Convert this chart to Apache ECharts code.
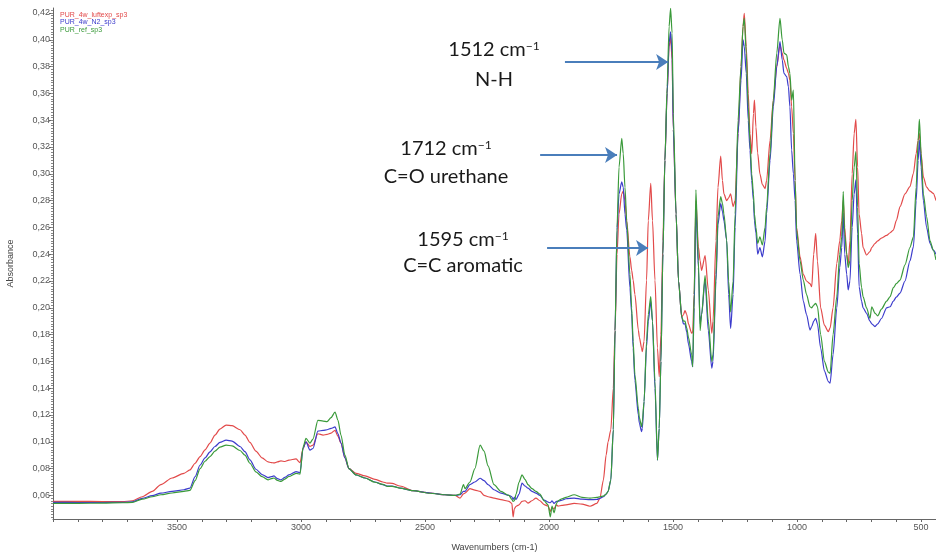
<!DOCTYPE html>
<html><head><meta charset="utf-8">
<script src="https://cdn.jsdelivr.net/npm/echarts@6/dist/echarts.min.js"></script>
<style>html,body{margin:0;padding:0;background:#fff}#c{width:936px;height:552px}</style>
</head><body><div id="c"></div>
<script>
const seriesNames = ['PUR_4w_luftexp_sp3', 'PUR_4w_N2_sp3', 'PUR_ref_sp3'];
const seriesColors = ['#e24a4a', '#3c3ccc', '#3a9a3a'];

const wavenumbers = [4000,3900,3800,3720,3680,3640,3600,3565,3520,3472,3448,3427,3407,3387,3367,3347,3327,3302,3278,3246,3226,3206,3182,3157,3133,3120,3109,3095,3081,3065,3049,3020,3004,2992,2980,2964,2952,2932,2911,2895,2879,2863,2851,2839,2823,2807,2778,2742,2702,2670,2653,2633,2601,2549,2480,2420,2379,2359,2345,2339,2319,2299,2278,2262,2246,2222,2194,2162,2150,2145,2140,2133,2121,2109,2097,2085,2069,2053,2037,2020,2004,1995,1988,1980,1970,1964,1948,1932,1899,1867,1835,1807,1795,1781,1770,1762,1751,1741,1734,1726,1718,1707,1701,1694,1687,1674,1667,1661,1654,1640,1636,1627,1624,1617,1607,1600,1590,1583,1573,1563,1556,1549,1541,1533,1524,1516,1510,1504,1499,1488,1478,1465,1458,1452,1445,1438,1425,1421,1415,1408,1398,1391,1385,1371,1358,1344,1339,1327,1319,1308,1301,1295,1284,1276,1268,1258,1250,1238,1226,1218,1213,1205,1197,1190,1183,1176,1172,1166,1159,1150,1140,1129,1123,1109,1096,1082,1069,1060,1053,1042,1035,1029,1022,1015,1008,1002,988,975,962,948,941,933,925,918,905,890,874,867,855,840,828,820,814,808,800,794,787,778,770,763,756,750,740,734,720,706,699,686,675,660,639,625,612,600,585,565,545,531,520,512,507,500,491,478,464,451,440];

const absRed = [.0555,.0556,.0554,.0553,.0560,.0590,.0630,.0680,.0730,.0765,.0790,.0840,.0890,.0940,.0990,.1050,.1095,.1125,.1120,.1090,.1050,.0995,.0930,.0880,.0850,.0845,.0842,.0850,.0857,.0853,.0864,.0872,.0845,.0950,.1000,.0965,.0975,.1060,.1050,.1055,.1065,.1086,.1040,.0990,.0880,.0800,.0765,.0745,.0720,.0700,.0692,.0690,.0670,.0635,.0618,.0605,.0600,.0580,.0612,.0617,.0650,.0640,.0630,.0600,.0590,.0580,.0568,.0556,.0540,.0440,.0500,.0519,.0530,.0556,.0560,.0543,.0560,.0580,.0560,.0531,.0520,.0480,.0510,.0500,.0530,.0520,.0525,.0530,.0540,.0535,.0519,.0540,.0580,.0715,.0900,.1000,.1090,.1400,.1830,.2400,.2700,.2850,.2870,.2800,.2650,.2380,.2280,.2207,.2100,.1834,.1780,.1700,.1673,.1750,.2207,.2650,.2929,.2650,.2207,.1700,.1486,.1800,.2500,.3100,.3600,.3950,.4020,.3850,.3330,.2700,.2200,.1930,.1950,.1980,.1950,.1880,.1810,.1820,.2100,.2800,.2456,.2350,.2280,.2390,.2133,.1810,.1900,.2500,.2900,.3133,.2950,.2850,.2800,.2820,.2850,.2755,.2800,.3300,.3800,.4100,.4198,.3950,.3600,.3300,.3150,.3450,.3550,.3350,.3155,.3000,.2920,.2890,.2950,.3250,.3550,.3800,.3960,.3900,.3850,.3787,.3750,.3700,.3500,.3300,.2950,.2600,.2381,.2250,.2200,.2180,.2157,.2400,.2556,.2350,.2000,.1870,.1822,.1850,.2000,.2332,.2500,.2650,.2804,.2600,.2400,.2320,.2500,.3000,.3300,.3407,.3050,.2700,.2556,.2450,.2394,.2420,.2450,.2480,.2500,.2520,.2540,.2560,.2580,.2650,.2755,.2850,.2904,.3004,.3150,.3250,.3302,.3150,.2978,.2900,.2870,.2854,.2800];

const absBlue = [.0548,.0547,.0547,.0548,.0552,.0578,.0598,.0617,.0630,.0642,.0655,.0740,.0827,.0880,.0925,.0965,.0995,.1012,.1005,.0965,.0926,.0865,.0795,.0755,.0733,.0740,.0745,.0725,.0716,.0735,.0753,.0778,.0770,.0950,.1000,.0938,.0950,.1080,.1085,.1090,.1100,.1111,.1060,.0990,.0880,.0800,.0753,.0730,.0700,.0680,.0670,.0670,.0655,.0635,.0618,.0605,.0600,.0605,.0630,.0630,.0680,.0700,.0728,.0710,.0680,.0642,.0617,.0600,.0590,.0570,.0585,.0570,.0610,.0691,.0670,.0654,.0630,.0617,.0600,.0565,.0550,.0545,.0560,.0540,.0555,.0555,.0565,.0575,.0580,.0572,.0568,.0570,.0578,.0590,.0610,.0630,.0715,.1090,.1830,.2580,.2850,.2940,.2900,.2700,.2580,.2150,.1960,.1700,.1460,.1200,.1140,.1076,.1100,.1300,.1710,.1900,.2050,.1900,.1400,.0864,.1100,.1600,.2400,.3100,.3600,.3980,.4060,.3900,.3330,.2700,.2200,.1930,.1880,.1880,.1820,.1730,.1600,.1560,.2000,.2750,.2300,.1880,.1950,.2210,.1830,.1550,.1600,.2200,.2620,.2780,.2720,.2650,.2506,.2100,.1847,.2100,.2600,.3300,.3700,.4000,.3950,.3750,.3400,.3178,.2950,.2800,.2650,.2560,.2400,.2450,.2380,.2500,.2700,.3100,.3500,.3800,.3986,.3850,.3750,.3725,.3650,.3500,.3178,.3000,.2800,.2500,.2250,.2050,.1950,.1834,.1860,.1900,.1922,.1880,.1700,.1530,.1450,.1437,.1650,.2000,.2300,.2450,.2705,.2400,.2250,.2133,.2200,.2600,.2850,.2954,.2550,.2157,.2050,.2000,.1959,.1900,.1880,.1860,.1880,.1920,.2000,.2008,.2050,.2080,.2110,.2200,.2350,.2456,.2800,.3100,.3252,.3050,.2800,.2600,.2480,.2430,.2400];

const absGreen = [.0540,.0541,.0542,.0545,.0548,.0572,.0590,.0605,.0618,.0630,.0637,.0710,.0800,.0855,.0890,.0930,.0960,.0975,.0970,.0935,.0900,.0840,.0775,.0740,.0716,.0725,.0730,.0712,.0704,.0722,.0741,.0765,.0758,.0960,.1025,.0990,.1020,.1160,.1155,.1150,.1180,.1222,.1160,.1050,.0900,.0800,.0753,.0730,.0698,.0682,.0668,.0668,.0655,.0635,.0616,.0605,.0600,.0610,.0680,.0650,.0700,.0800,.0975,.0930,.0820,.0680,.0630,.0600,.0570,.0555,.0560,.0610,.0700,.0753,.0720,.0680,.0650,.0630,.0610,.0560,.0530,.0440,.0520,.0470,.0540,.0560,.0575,.0585,.0605,.0585,.0580,.0585,.0590,.0595,.0610,.0630,.0715,.1090,.1830,.2600,.3050,.3265,.3150,.2900,.2650,.2250,.2000,.1750,.1500,.1250,.1180,.1113,.1150,.1300,.1750,.1950,.2083,.1900,.1450,.0864,.1100,.1600,.2400,.3100,.3650,.4100,.4235,.4050,.3450,.2700,.2200,.1930,.1900,.1900,.1850,.1780,.1650,.1560,.2100,.2880,.2350,.1830,.1950,.2240,.1900,.1600,.1650,.2250,.2680,.2830,.2780,.2700,.2506,.2200,.1970,.2200,.2700,.3400,.3800,.4100,.4160,.3900,.3500,.3250,.3000,.2850,.2700,.2600,.2480,.2530,.2469,.2600,.2750,.3150,.3550,.3900,.4160,.4000,.3900,.3887,.3800,.3750,.3550,.3625,.2950,.2580,.2350,.2207,.2100,.2008,.2000,.2020,.2033,.2010,.1800,.1600,.1520,.1511,.1800,.2083,.2400,.2530,.2867,.2550,.2400,.2300,.2350,.2800,.3050,.3165,.2750,.2332,.2150,.2083,.2000,.1922,.2008,.1960,.1940,.1990,.2050,.2083,.2150,.2180,.2207,.2320,.2450,.2530,.2900,.3250,.3407,.3150,.2850,.2680,.2500,.2430,.2357];

const xTickLabels = [3500, 3000, 2500, 2000, 1500, 1000, 500];
const yTickLabels = [0.06,0.08,0.10,0.12,0.14,0.16,0.18,0.20,0.22,0.24,0.26,0.28,0.30,0.32,0.34,0.36,0.38,0.40,0.42];
const peakLabels = [
  { wn: 1512, line1: '1512 cm', line2: 'N-H' },
  { wn: 1712, line1: '1712 cm', line2: 'C=O urethane' },
  { wn: 1595, line1: '1595 cm', line2: 'C=C aromatic' }
];

const allAbs = [absRed, absBlue, absGreen];

const xMinor = [];
for (let w = 500; w <= 4000; w += 100) xMinor.push(w);
const yMinor = [];
for (let k = 22; k <= 211; k++) yMinor.push(+(k * 0.002).toFixed(3));

const axisGray = '#555';
const fmt = v => v.toFixed(2).replace('.', ',');

const series = allAbs.map((arr, i) => ({
  name: seriesNames[i],
  type: 'line',
  xAxisIndex: 0, yAxisIndex: 0,
  showSymbol: false,
  symbol: 'none',
  smooth: 0.25,
  smoothMonotone: 'x',
  animation: false,
  lineStyle: { color: seriesColors[i], width: 1.2 },
  itemStyle: { color: seriesColors[i] },
  data: wavenumbers.map((w, j) => [w, arr[j]])
}));

// arrows (annotation layer, data coordinates)
const arrowColor = '#4a7ebb';
const arrowDefs = [
  { from: [1936, 0.3834], to: [1520, 0.3834] },
  { from: [2036, 0.3140], to: [1726, 0.3140] },
  { from: [2008, 0.2446], to: [1601, 0.2446] }
];
series.push({
  name: 'arrows', type: 'line', data: [], animation: false,
  markLine: {
    silent: true, animation: false,
    symbol: ['none', 'arrow'], symbolSize: 12,
    label: { show: false },
    lineStyle: { color: arrowColor, width: 2, type: 'solid' },
    itemStyle: { color: arrowColor },
    data: arrowDefs.map(a => [{ coord: a.from }, { coord: a.to }])
  }
});

const annFont = 'Lato, "Open Sans", sans-serif';
const annPos = [
  { x: 494, y1: 50, y2: 80 },
  { x: 446, y1: 149, y2: 177 },
  { x: 463, y1: 240, y2: 266 }
];
const graphic = [];
peakLabels.forEach((p, i) => {
  const pos = annPos[i];
  graphic.push({
    type: 'text', x: pos.x, y: pos.y1, silent: true,
    style: {
      text: '{a|' + p.line1 + '}{s|\u22121}',
      align: 'center', verticalAlign: 'middle',
      rich: {
        a: { fontSize: 20, fontFamily: annFont, fill: '#1a1a1a', color: '#1a1a1a' },
        s: { fontSize: 12, fontFamily: annFont, fill: '#1a1a1a', color: '#1a1a1a', verticalAlign: 'top' }
      }
    }
  });
  graphic.push({
    type: 'text', x: pos.x, y: pos.y2, silent: true,
    style: {
      text: p.line2, align: 'center', verticalAlign: 'middle',
      fontSize: 20, fontFamily: annFont, fill: '#1a1a1a'
    }
  });
});

const chart = echarts.init(document.getElementById('c'), null, { renderer: 'canvas' });
chart.setOption({
  animation: false,
  backgroundColor: '#ffffff',
  grid: { left: 53, right: 0, top: 8, bottom: 33, containLabel: false, outerBoundsMode: 'none' },
  legend: {
    show: true, orient: 'vertical', left: 50, top: 6,
    itemGap: 0, itemWidth: 0, itemHeight: 8, icon: 'none',
    selectedMode: false,
    textStyle: { fontSize: 7, fontFamily: 'Liberation Sans, Arial', padding: 0 },
    data: seriesNames.map((n, i) => ({ name: n, icon: 'none', textStyle: { color: seriesColors[i] } }))
  },
  xAxis: [{
    type: 'value', inverse: true, min: 440, max: 4000,
    name: 'Wavenumbers (cm-1)', nameLocation: 'middle', nameGap: 24,
    nameTextStyle: { fontSize: 9, color: '#444', fontFamily: 'Liberation Sans, Arial' },
    axisLine: { show: true, onZero: false, lineStyle: { color: '#666', width: 1 } },
    axisTick: { show: true, length: 3, customValues: xMinor, lineStyle: { color: '#666' } },
    axisLabel: { show: true, customValues: xTickLabels, formatter: v => String(v), fontSize: 9, color: axisGray, margin: 4, fontFamily: 'Liberation Sans, Arial' },
    splitLine: { show: false }
  }],
  yAxis: [{
    type: 'value', min: 0.04239, max: 0.42373,
    name: 'Absorbance', nameLocation: 'middle', nameGap: 38, nameRotate: 90,
    nameTextStyle: { fontSize: 9, color: '#444', fontFamily: 'Liberation Sans, Arial' },
    axisLine: { show: true, onZero: false, lineStyle: { color: '#666', width: 1 } },
    axisTick: { show: true, length: 4, customValues: yTickLabels, lineStyle: { color: '#666' } },
    axisLabel: { show: true, customValues: yTickLabels, formatter: fmt, fontSize: 9, color: axisGray, margin: 3, fontFamily: 'Liberation Sans, Arial' },
    splitLine: { show: false }
  }, {
    type: 'value', min: 0.04239, max: 0.42373, position: 'left',
    axisLine: { show: false },
    axisTick: { show: true, length: 2, customValues: yMinor, lineStyle: { color: '#888' } },
    axisLabel: { show: false },
    splitLine: { show: false }
  }],
  series: series,
  graphic: graphic
});
</script>
</body></html>
